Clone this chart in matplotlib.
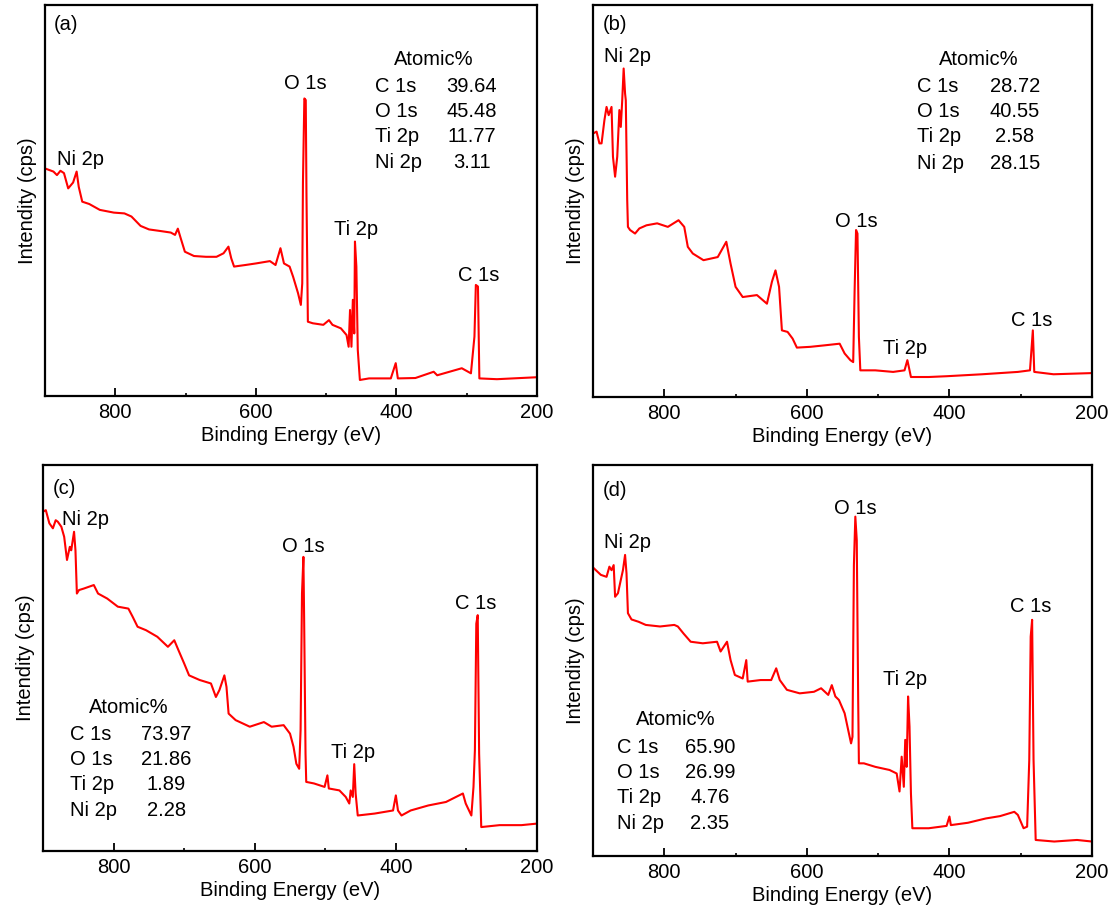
import matplotlib
matplotlib.use("Agg")
import matplotlib.pyplot as plt
from matplotlib.ticker import FixedLocator

plt.rcParams['font.family'] = ['Liberation Sans', 'DejaVu Sans']

# binding energy (eV) and intensity (% of axis height)
be_a = [900, 888, 883, 878, 873, 867, 860, 855, 852, 847, 837, 822, 802, 787, 777, 764, 752, 736, 721, 715,
        711, 707, 701, 688, 671, 656, 646, 639, 635, 631, 615, 600, 580, 572, 565, 560, 552, 547, 540, 536,
        534, 533, 531, 529, 528, 526, 519, 504, 496, 491, 479, 471, 468, 466, 464, 462, 460, 459, 457, 455,
        452, 439, 408, 401, 398, 373, 347, 342, 307, 294, 289, 287, 284, 282, 257, 200]
int_a = [58.2, 57.4, 56.5, 57.6, 57.0, 53.1, 54.6, 57.4, 53.5, 49.7, 49.1, 47.6, 46.9, 46.7, 45.9, 43.5, 42.6, 42.2, 41.8, 41.2,
         42.8, 40.4, 36.9, 35.8, 35.6, 35.6, 36.5, 38.2, 35.2, 33.1, 33.5, 33.9, 34.5, 33.5, 37.8, 33.9, 33.1, 30.5, 26.3, 23.3,
         28.8, 54.6, 76.1, 75.7, 51.8, 19.0, 18.6, 18.2, 19.4, 18.2, 17.3, 15.6, 12.6, 22.0, 12.6, 24.6, 16.0, 39.5, 33.1, 11.8,
         4.1, 4.5, 4.5, 8.4, 4.5, 4.6, 6.2, 5.3, 7.1, 5.8, 15.2, 28.4, 28.0, 4.5, 4.3, 4.8]

be_b = [900, 895, 891, 888, 884, 881, 878, 874, 872, 869, 866, 863, 861, 859, 857, 855, 854, 852, 851, 848,
        841, 835, 825, 810, 795, 780, 772, 767, 760, 745, 725, 713, 707, 700, 690, 670, 656, 649, 644, 639,
        635, 627, 620, 614, 595, 574, 554, 547, 539, 535, 533, 531, 529, 527, 525, 504, 479, 463, 459, 457,
        454, 429, 404, 354, 304, 287, 285, 283, 281, 254, 200]
int_b = [67.2, 67.7, 64.7, 64.7, 70.6, 74.0, 71.9, 74.0, 61.3, 56.2, 61.3, 73.2, 68.9, 75.7, 83.8, 77.4, 75.7, 50.2, 43.4, 42.6,
         41.7, 43.0, 43.8, 44.3, 43.4, 45.1, 43.4, 38.3, 36.6, 34.9, 35.7, 39.6, 34.0, 28.1, 25.5, 26.0, 23.8, 29.4, 32.3, 28.1,
         17.0, 16.6, 14.9, 12.6, 12.8, 13.2, 13.6, 11.1, 9.4, 8.9, 27.2, 42.6, 41.7, 15.3, 6.8, 6.8, 6.4, 6.8, 9.4, 7.7,
         5.1, 5.1, 5.3, 5.8, 6.4, 6.8, 11.9, 17.0, 6.4, 5.8, 6.1]

be_c = [900, 896, 891, 886, 882, 879, 874, 870, 866, 862, 860, 856, 854, 852, 849, 842, 828, 822, 809, 794,
        779, 773, 766, 754, 738, 723, 714, 708, 700, 693, 678, 662, 655, 650, 643, 640, 637, 627, 607, 587,
        576, 559, 550, 545, 541, 537, 535, 533, 531, 530, 528, 527, 516, 501, 497, 495, 480, 471, 466, 464,
        461, 459, 457, 454, 430, 404, 400, 397, 392, 379, 354, 329, 305, 301, 293, 290, 288, 286, 284, 282,
        279, 253, 222, 200]
int_c = [87.9, 88.3, 84.9, 83.6, 85.7, 85.3, 84.0, 81.4, 75.4, 78.8, 77.9, 82.7, 77.9, 66.7, 67.6, 68.0, 68.9, 66.7, 65.4, 63.3,
         62.8, 60.7, 58.1, 57.2, 55.5, 52.9, 54.6, 52.0, 48.6, 45.5, 44.3, 43.4, 39.9, 41.7, 45.5, 42.5, 35.6, 33.9, 32.2, 33.4,
         32.2, 32.6, 30.4, 27.0, 22.6, 21.3, 31.3, 66.7, 76.2, 60.7, 25.2, 17.9, 17.5, 16.6, 19.6, 16.2, 15.7, 14.0, 12.3, 15.7,
         14.0, 22.5, 14.9, 9.2, 9.7, 10.5, 14.4, 10.5, 9.2, 10.5, 11.8, 12.7, 14.9, 12.3, 9.2, 16.6, 26.1, 58.9, 61.1, 25.2,
         6.2, 6.7, 6.7, 7.1]

be_d = [900, 896, 889, 881, 877, 874, 871, 869, 865, 861, 858, 855, 853, 851, 846, 836, 826, 806, 786, 781,
        773, 763, 746, 726, 721, 712, 707, 701, 690, 685, 683, 665, 650, 643, 638, 628, 610, 590, 580, 570,
        565, 560, 555, 547, 542, 538, 536, 534, 532, 530, 528, 527, 520, 504, 484, 474, 470, 467, 464, 462,
        460, 458, 456, 454, 452, 429, 404, 400, 398, 374, 349, 329, 309, 304, 296, 291, 288, 286, 284, 282,
        279, 253, 221, 200]
int_d = [73.8, 73.1, 71.9, 71.4, 74.0, 73.1, 74.4, 66.3, 67.2, 70.6, 73.1, 77.0, 72.3, 62.1, 60.5, 59.9, 59.1, 58.7, 59.1, 58.7,
         56.9, 54.8, 54.4, 54.8, 52.3, 54.8, 50.1, 46.3, 45.4, 50.1, 44.6, 45.0, 45.0, 48.0, 45.0, 42.5, 41.6, 42.0, 42.9, 41.2,
         43.7, 40.8, 39.9, 36.5, 32.2, 28.8, 30.5, 74.4, 86.8, 80.8, 39.9, 23.7, 23.7, 22.8, 22.0, 21.1, 16.5, 25.4, 17.7, 29.7,
         22.8, 40.8, 33.1, 16.0, 7.1, 7.1, 7.7, 10.1, 7.9, 8.5, 9.6, 10.2, 11.3, 10.5, 7.1, 7.5, 24.6, 56.1, 60.4, 24.6,
         4.1, 3.7, 4.1, 3.7]

elements = ['C 1s', 'O 1s', 'Ti 2p', 'Ni 2p']
atomic_a = ['39.64', '45.48', '11.77', '3.11']
atomic_b = ['28.72', '40.55', '2.58', '28.15']
atomic_c = ['73.97', '21.86', '1.89', '2.28']
atomic_d = ['65.90', '26.99', '4.76', '2.35']

peaks = ['Ni 2p', 'O 1s', 'Ti 2p', 'C 1s']

# layout per panel: axes rect (px), peak label spots, table spots
panels = [
    dict(tag='(a)', be=be_a, y=int_a, at=atomic_a, rect=(45, 5, 537, 396), tagpos=(888, 94.9),
         peakpos=[(850, 60.5), (530, 79.8), (458, 42.6), (283, 30.9)],
         head=(347, 86.1), lab_x=430, val_x=293, rows=[79.1, 72.7, 66.3, 59.8]),
    dict(tag='(b)', be=be_b, y=int_b, at=atomic_b, rect=(593, 5, 1092, 397), tagpos=(886, 94.9),
         peakpos=[(852, 86.8), (531, 44.7), (462, 12.3), (284, 19.4)],
         head=(359, 86.1), lab_x=445, val_x=308, rows=[79.1, 72.8, 66.4, 59.6]),
    dict(tag='(c)', be=be_c, y=int_c, at=atomic_c, rect=(43, 465, 537, 851), tagpos=(886, 94.0),
         peakpos=[(840, 85.9), (531, 78.8), (460, 25.5), (287, 64.1)],
         head=(778, 37.2), lab_x=862, val_x=725, rows=[30.3, 23.8, 17.3, 10.5]),
    dict(tag='(d)', be=be_d, y=int_d, at=atomic_d, rect=(593, 465, 1092, 856), tagpos=(886, 93.4),
         peakpos=[(852, 80.1), (532, 88.9), (462, 45.2), (286, 63.9)],
         head=(784, 34.8), lab_x=867, val_x=736, rows=[27.8, 21.4, 14.9, 8.4]),
]

W, H = 1111, 915
fs = 14.5
fig = plt.figure(figsize=(W / 100, H / 100), dpi=100)

for p in panels:
    x0, y0, x1, y1 = p['rect']
    ax = fig.add_axes([x0 / W, 1 - y1 / H, (x1 - x0) / W, (y1 - y0) / H])
    ax.plot(p['be'], p['y'], color='#ff0000', lw=1.5)
    ax.set_xlim(900, 200)
    ax.set_ylim(0, 100)
    ax.xaxis.set_major_locator(FixedLocator([800, 600, 400, 200]))
    ax.xaxis.set_minor_locator(FixedLocator([700, 500, 300]))
    ax.tick_params(axis='x', which='major', direction='in', length=5.5, width=1.3,
                   labelsize=fs, pad=5, top=False)
    ax.tick_params(axis='x', which='minor', direction='in', length=2.5, width=1.2, top=False)
    ax.set_yticks([])
    for s in ax.spines.values():
        s.set_linewidth(1.6)
    ax.set_xlabel('Binding Energy (eV)', fontsize=fs, labelpad=3)
    ax.set_ylabel('Intendity (cps)', fontsize=fs, labelpad=6)

    ax.text(p['tagpos'][0], p['tagpos'][1], p['tag'], fontsize=fs, ha='left', va='center')
    for name, (px, py) in zip(peaks, p['peakpos']):
        ax.text(px, py, name, fontsize=fs, ha='center', va='center')
    ax.text(p['head'][0], p['head'][1], 'Atomic%', fontsize=fs, ha='center', va='center')
    for name, val, ry in zip(elements, p['at'], p['rows']):
        ax.text(p['lab_x'], ry, name, fontsize=fs, ha='left', va='center')
        ax.text(p['val_x'], ry, val, fontsize=fs, ha='center', va='center')

fig.savefig('out.png', dpi=100)
